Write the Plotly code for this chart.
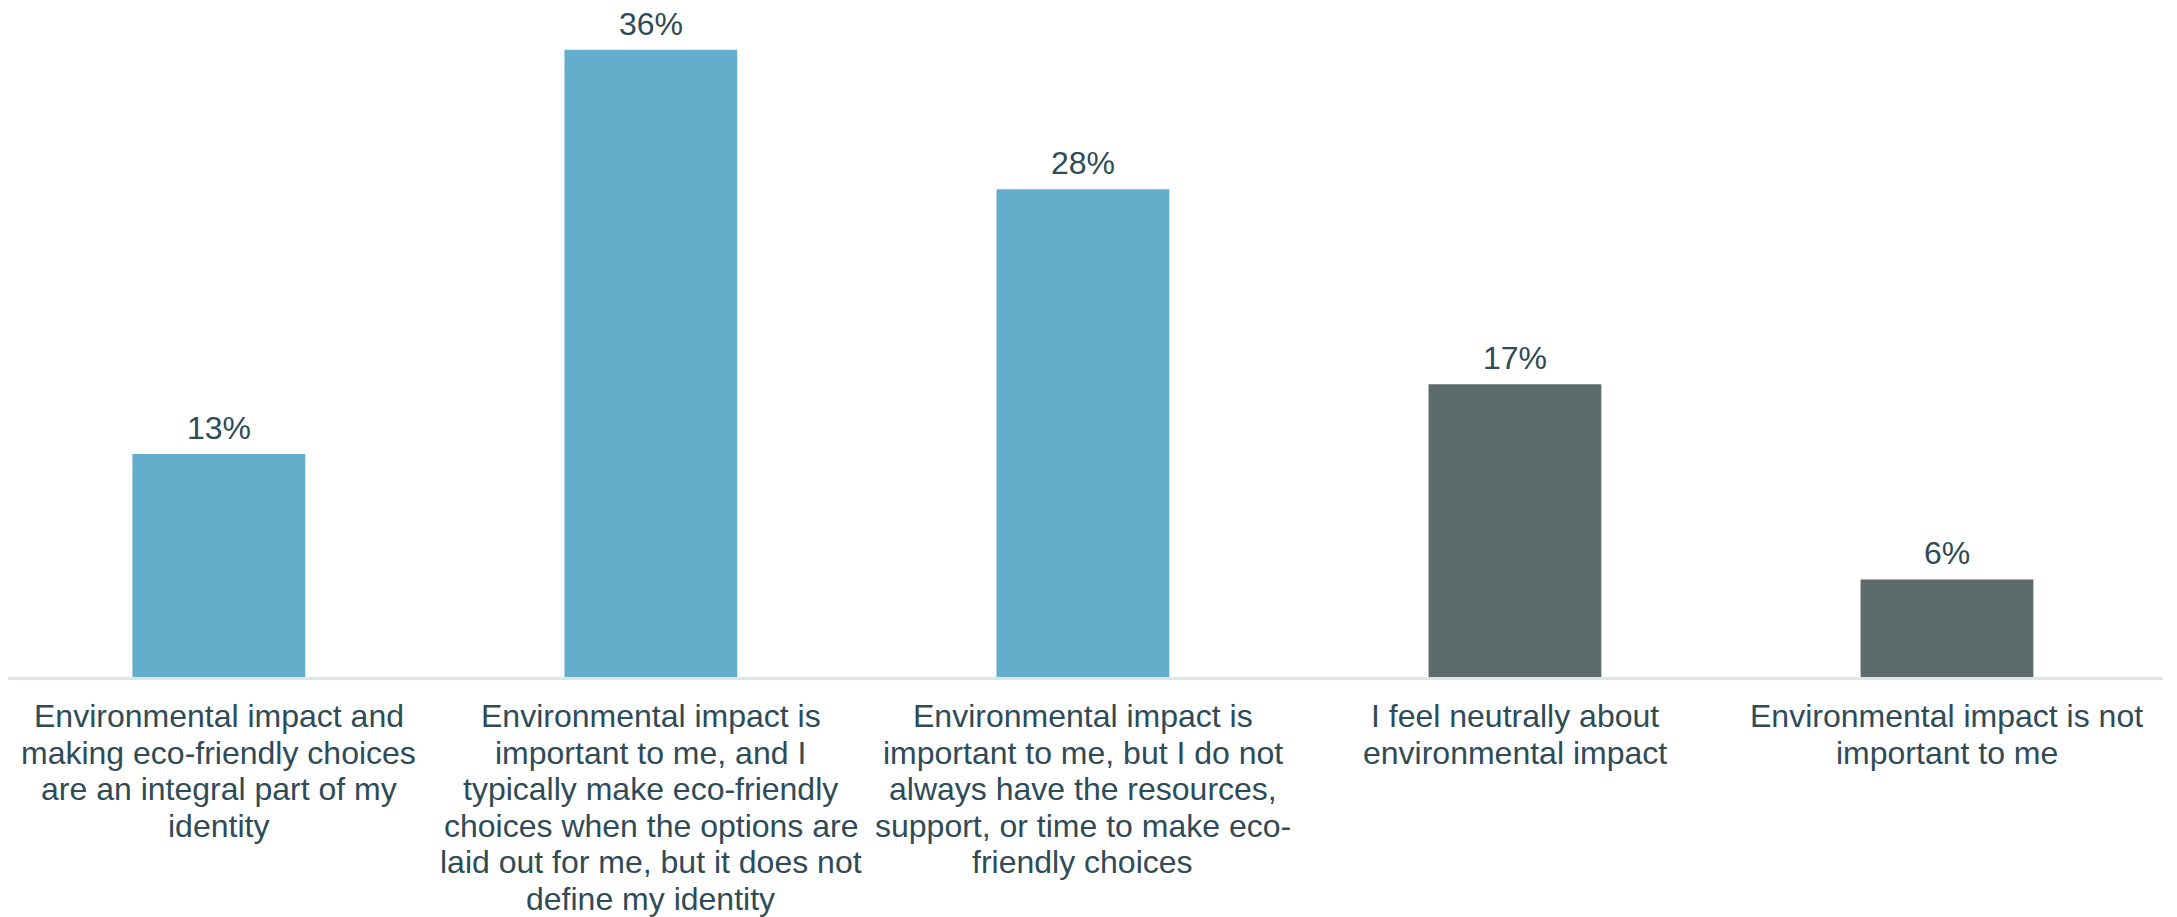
import plotly.graph_objects as go

categories = [
    "Environmental impact and<br>making eco-friendly choices<br>are an integral part of my<br>identity",
    "Environmental impact is<br>important to me, and I<br>typically make eco-friendly<br>choices when the options are<br>laid out for me, but it does not<br>define my identity",
    "Environmental impact is<br>important to me, but I do not<br>always have the resources,<br>support, or time to make eco-<br>friendly choices",
    "I feel neutrally about<br>environmental impact",
    "Environmental impact is not<br>important to me",
]
values = [12.8, 36.0, 28.0, 16.8, 5.6]
bar_colors = ["#65AECB", "#65AECB", "#65AECB", "#5D6B6A", "#5D6B6A"]

TEXT = "#2E4B57"
FONT = "Liberation Sans, Arial, sans-serif"

xs = list(range(len(categories)))

fig = go.Figure(
    go.Bar(
        x=xs,
        y=values,
        marker=dict(color=bar_colors, line=dict(width=0)),
        width=0.4,
        hoverinfo="skip",
    )
)

annotations = []
for i, v in enumerate(values):
    annotations.append(dict(
        x=xs[i], y=v, xref="x", yref="y",
        text=f"{v:.0f}%", showarrow=False,
        yanchor="bottom", xanchor="center", yshift=6,
        font=dict(size=32, color=TEXT, family=FONT),
    ))
for i, lab in enumerate(categories):
    for j, line in enumerate(lab.split("<br>")):
        annotations.append(dict(
            x=xs[i], y=0, xref="x", yref="y",
            text=line, showarrow=False,
            yanchor="middle", xanchor="center",
            yshift=-(39 + j * 36.6),
            font=dict(size=32, color=TEXT, family=FONT),
        ))

fig.update_layout(
    width=2169, height=909,
    margin=dict(l=0, r=14, t=0, b=240),
    paper_bgcolor="white", plot_bgcolor="white",
    showlegend=False,
    annotations=annotations,
    xaxis=dict(
        range=[-0.488, len(categories) - 0.5],
        showticklabels=False, showgrid=False, zeroline=False,
        showline=True, linecolor="#DCE6EA", linewidth=3, ticks="",
    ),
    yaxis=dict(
        range=[0, 38.4], visible=False, showgrid=False, zeroline=False,
    ),
    font=dict(family=FONT, color=TEXT),
)

fig.write_html("out.html")
